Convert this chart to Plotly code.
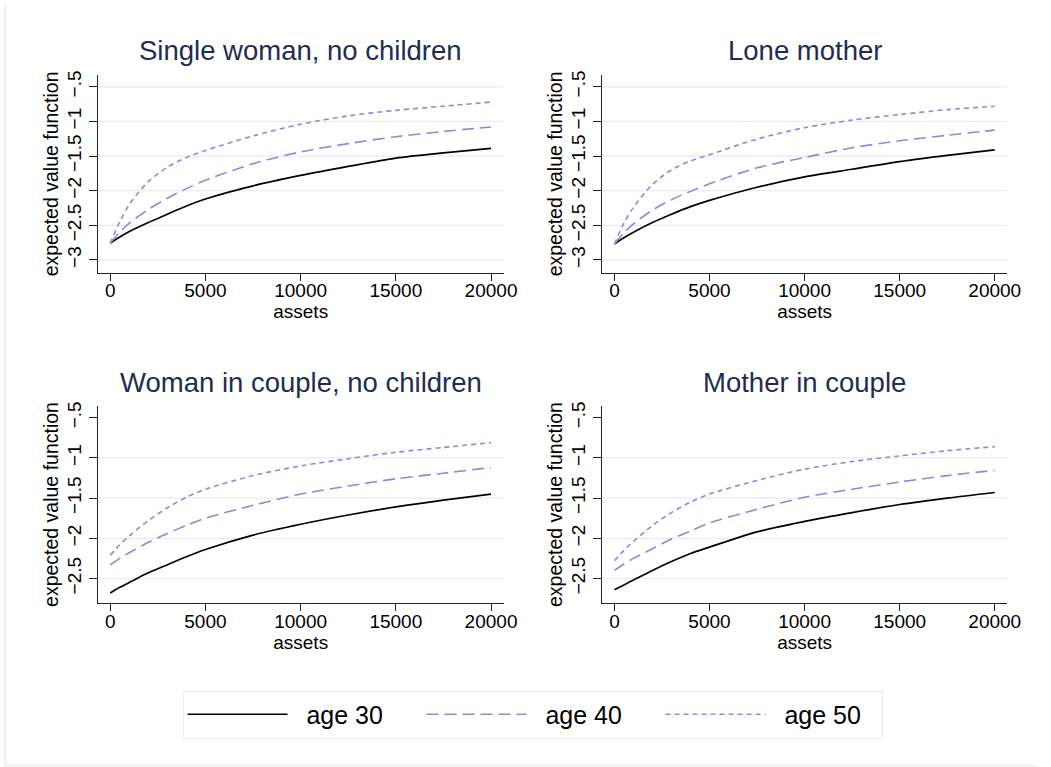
import plotly.graph_objects as go

# ---------------- data ----------------
assets = [0, 500, 1000, 2000, 3000, 4000, 5000, 7500, 10000, 12500, 15000, 17500, 20000]

panel_titles = ["Single woman, no children", "Lone mother",
                "Woman in couple, no children", "Mother in couple"]
series_names = ["age 30", "age 40", "age 50"]

single_age30 = [-2.76, -2.67, -2.59, -2.46, -2.34, -2.22, -2.12, -1.93, -1.78, -1.65, -1.53, -1.455, -1.39]
single_age40 = [-2.76, -2.60, -2.47, -2.27, -2.11, -1.97, -1.85, -1.61, -1.44, -1.32, -1.22, -1.145, -1.08]
single_age50 = [-2.76, -2.45, -2.20, -1.87, -1.66, -1.52, -1.42, -1.21, -1.04, -0.92, -0.84, -0.78, -0.72]

lone_age30 = [-2.77, -2.68, -2.60, -2.46, -2.34, -2.23, -2.14, -1.95, -1.80, -1.69, -1.58, -1.49, -1.41]
lone_age40 = [-2.77, -2.61, -2.48, -2.28, -2.13, -2.01, -1.90, -1.67, -1.52, -1.38, -1.28, -1.20, -1.125]
lone_age50 = [-2.77, -2.47, -2.24, -1.91, -1.70, -1.57, -1.48, -1.255, -1.09, -0.98, -0.90, -0.83, -0.78]

couple_age30 = [-2.68, -2.61, -2.55, -2.43, -2.33, -2.23, -2.14, -1.96, -1.825, -1.71, -1.61, -1.525, -1.45]
couple_age40 = [-2.33, -2.25, -2.18, -2.05, -1.94, -1.84, -1.75, -1.59, -1.45, -1.35, -1.26, -1.19, -1.12]
couple_age50 = [-2.21, -2.08, -1.97, -1.78, -1.62, -1.49, -1.39, -1.22, -1.10, -1.01, -0.93, -0.87, -0.81]

mother_couple_age30 = [-2.64, -2.58, -2.52, -2.40, -2.29, -2.19, -2.11, -1.92, -1.79, -1.68, -1.58, -1.50, -1.43]
mother_couple_age40 = [-2.40, -2.32, -2.25, -2.13, -2.01, -1.91, -1.81, -1.64, -1.49, -1.39, -1.30, -1.22, -1.155]
mother_couple_age50 = [-2.28, -2.15, -2.04, -1.84, -1.68, -1.55, -1.45, -1.28, -1.14, -1.045, -0.975, -0.91, -0.86]

x_tickvals = [0, 5000, 10000, 15000, 20000]
x_ticktext = ["0", "5000", "10000", "15000", "20000"]
y_tickvals_top = [-3, -2.5, -2, -1.5, -1, -0.5]
y_ticktext_top = ["\u22123", "\u22122.5", "\u22122", "\u22121.5", "\u22121", "\u2212.5"]
y_tickvals_bottom = [-2.5, -2, -1.5, -1, -0.5]
y_ticktext_bottom = ["\u22122.5", "\u22122", "\u22121.5", "\u22121", "\u2212.5"]
grid_top = [-3, -2.5, -2, -1.5, -1, -0.5]
grid_bottom = [-2.5, -2, -1.5, -1]

# ---------------- styling ----------------
W, H = 1051, 767
FONT = "Liberation Sans, Arial, Helvetica, sans-serif"
TITLE_COLOR = "#1f2c52"
PURPLE = "#9088d8"
GRID = "#e4edef"
AXIS = "#222222"

line_styles = [
    dict(color="black", width=1.7, dash="solid", shape="spline", smoothing=0.8),
    dict(color=PURPLE, width=1.6, dash="12px,6px", shape="spline", smoothing=0.8),
    dict(color=PURPLE, width=1.6, dash="5px,4px", shape="spline", smoothing=0.8),
]
legend_widths = [124, 124, 106]

def fx(p):
    return p / W

def fy(p):
    return 1 - p / H

panels = [
    dict(data=[single_age30, single_age40, single_age50], xd=(99, 510.5), yd=(70.7, 269.3),
         yr=[-3.182, -0.333], tv=y_tickvals_top, tt=y_ticktext_top, grid=grid_top, ty=46),
    dict(data=[lone_age30, lone_age40, lone_age50], xd=(610, 1021), yd=(70.7, 269.3),
         yr=[-3.182, -0.333], tv=y_tickvals_top, tt=y_ticktext_top, grid=grid_top, ty=46),
    dict(data=[couple_age30, couple_age40, couple_age50], xd=(99, 510.5), yd=(403.3, 602.3),
         yr=[-2.81, -0.35], tv=y_tickvals_bottom, tt=y_ticktext_bottom, grid=grid_bottom, ty=380),
    dict(data=[mother_couple_age30, mother_couple_age40, mother_couple_age50], xd=(610, 1021), yd=(403.3, 602.3),
         yr=[-2.81, -0.35], tv=y_tickvals_bottom, tt=y_ticktext_bottom, grid=grid_bottom, ty=380),
]

fig = go.Figure()
shapes = []
annotations = []
layout_axes = {}

for i, p in enumerate(panels):
    n = i + 1
    xa = "x" if n == 1 else f"x{n}"
    ya = "y" if n == 1 else f"y{n}"
    for s, (vals, name) in enumerate(zip(p["data"], series_names)):
        fig.add_trace(go.Scatter(
            x=assets, y=vals, mode="lines", name="  " + name,
            line=line_styles[s], xaxis=xa, yaxis=ya,
            showlegend=(i == 0), legendgroup=name, legendwidth=legend_widths[s],
            hoverinfo="skip",
        ))
    tickfont = dict(family=FONT, size=19, color="black")
    layout_axes[f"xaxis{'' if n == 1 else n}"] = dict(
        domain=[fx(p["xd"][0]), fx(p["xd"][1])], anchor=ya,
        range=[-660, 20665], tickvals=x_tickvals, ticktext=x_ticktext,
        showgrid=False, zeroline=False, showline=True, linecolor=AXIS, linewidth=1,
        ticks="outside", ticklen=7, tickcolor=AXIS, tickwidth=1, tickfont=tickfont,
        ticklabelstandoff=-6,
        title=dict(text="assets", font=dict(family=FONT, size=19, color="black"), standoff=2),
    )
    layout_axes[f"yaxis{'' if n == 1 else n}"] = dict(
        domain=[fy(p["yd"][1]), fy(p["yd"][0])], anchor=xa,
        range=p["yr"], tickvals=p["tv"], ticktext=p["tt"], tickangle=-90,
        showgrid=False, zeroline=False, showline=True, linecolor=AXIS, linewidth=1,
        ticks="outside", ticklen=8, tickcolor=AXIS, tickwidth=1, tickfont=tickfont,
        title=dict(text="expected value function", font=dict(family=FONT, size=19.5, color="black"), standoff=0),
    )
    for g in p["grid"]:
        shapes.append(dict(type="line", xref=f"{xa} domain", yref=ya, x0=0, x1=1, y0=g, y1=g,
                           line=dict(color=GRID, width=1.2), layer="below"))
    annotations.append(dict(
        text=panel_titles[i], xref="paper", yref="paper",
        x=(fx(p["xd"][0]) + fx(p["xd"][1])) / 2, y=fy(p["ty"]),
        xanchor="center", yanchor="middle", showarrow=False,
        font=dict(family=FONT, size=27.5, color=TITLE_COLOR),
    ))

# outer graph-region frame (left and bottom edges visible)
shapes.append(dict(type="line", xref="paper", yref="paper", x0=fx(5), x1=fx(5), y0=fy(766), y1=1,
                   line=dict(color="#e6eef0", width=1.5)))
shapes.append(dict(type="line", xref="paper", yref="paper", x0=fx(5), x1=1, y0=fy(765.5), y1=fy(765.5),
                   line=dict(color="#e6eef0", width=1.5)))

fig.update_layout(
    width=W, height=H, margin=dict(l=0, r=0, t=0, b=0),
    paper_bgcolor="white", plot_bgcolor="white",
    font=dict(family=FONT, color="black"),
    shapes=shapes, annotations=annotations,
    legend=dict(
        orientation="h", x=fx(185), y=fy(690), xanchor="left", yanchor="top",
        font=dict(family=FONT, size=25, color="black"),
        bordercolor="#e3ecee", borderwidth=1, bgcolor="white",
        itemwidth=100, entrywidthmode="pixels",
        itemclick=False, itemdoubleclick=False,
    ),
    **layout_axes,
)

fig.write_html("out.html", config={"displayModeBar": False},
               post_script="document.body.style.margin='0';")
